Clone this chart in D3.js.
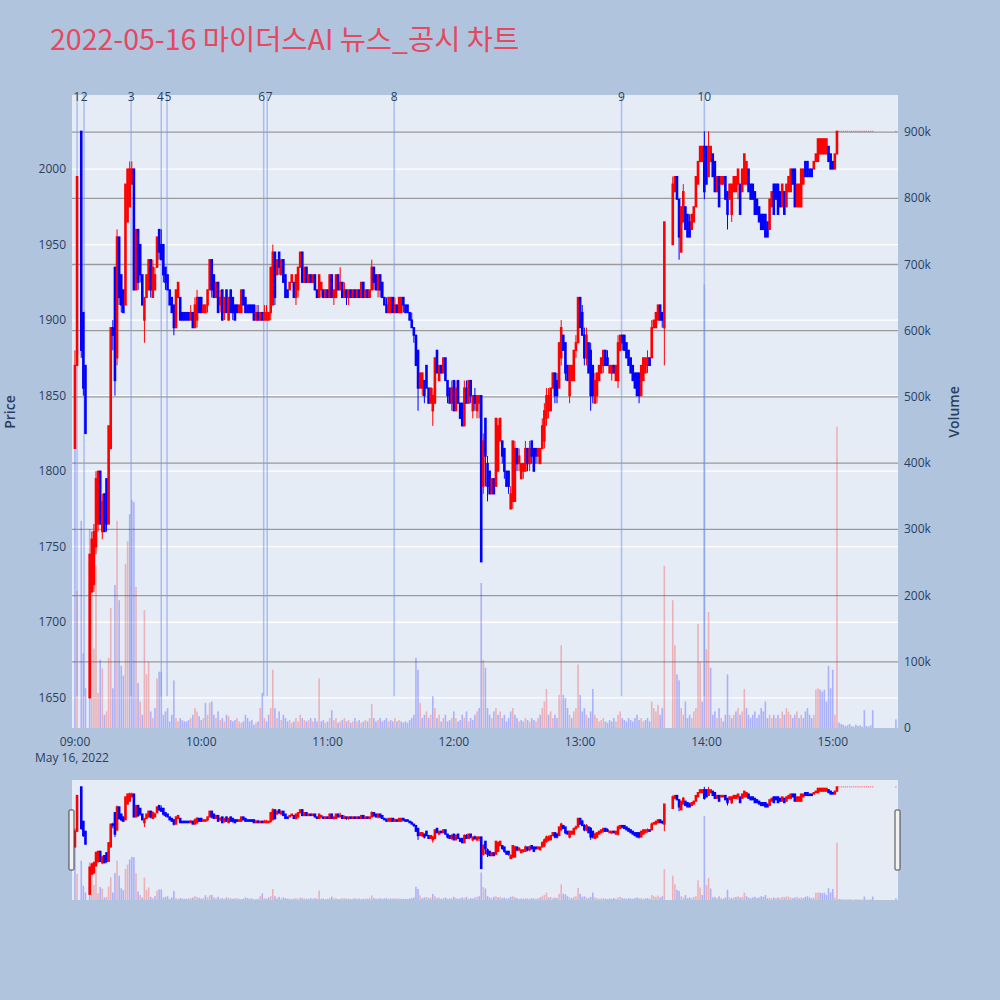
<!DOCTYPE html>
<html><head><meta charset="utf-8">
<script src="https://cdn.jsdelivr.net/npm/d3@7"></script>
<style>
body{margin:0;background:#b0c4de;}
svg{display:block;font-family:"Open Sans","Noto Sans CJK KR",sans-serif;}
</style>
</head><body>
<svg id="chart" width="1000" height="1000"></svg>
<script>
// ---------- DATA (one entry per minute from 09:00; null = no trade) ----------
const sessionDate = [2022, 4, 16, 9, 0];
const open = [
1815,1870,null,2025,1905,1870,null,1650,1720,1725,
1750,1765,1800,1760,1785,1795,1765,1815,1895,1935,
1875,1955,1930,1920,1910,1965,1975,1990,2000,1920,
1960,1950,1930,1900,1915,1920,1940,1915,1920,1935,
1960,1950,1950,1935,1930,1920,1915,1910,1895,1915,
1915,1905,1905,1905,1905,1900,1905,1895,1900,1915,
1915,1905,1905,1910,1920,1940,1930,1915,1925,1910,
1920,1905,1920,1900,1920,1915,1910,1910,1905,1905,
1920,1915,1910,1910,1910,1910,1900,1905,1900,1905,
1900,1900,1900,1905,1910,1945,1930,1945,1930,1940,
1930,1920,1920,1925,1925,1915,1920,1935,1945,1925,
1935,1925,1930,1925,1930,1920,1915,1920,1920,1915,
1920,1915,1930,1915,1915,1930,1920,1925,1915,1920,
1915,1920,1915,1920,1915,1920,1915,1925,1915,1920,
1915,1920,1935,1930,1920,1930,1925,1915,1910,1905,
1905,1915,1905,1910,1905,1905,1915,1910,1910,1905,
1900,1895,1890,1880,1855,1855,1860,1870,1855,1845,
1840,1845,1880,1860,1870,1865,1875,1860,1855,1845,
1860,1840,1860,1845,1845,1830,1855,1845,1860,1840,
1850,1840,1845,1850,1790,1835,1805,1800,1785,1795,
1790,1800,1820,1820,1815,1800,1800,1775,1780,1780,
1815,1805,1795,1800,1800,1815,1805,1820,1815,1815,
1810,1805,1815,1820,1835,1840,1840,1855,1865,1860,
1855,1875,1890,1885,1870,1850,1860,1860,1880,1885,
1915,1905,1890,1875,1885,1880,1870,1845,1850,1860,
1865,1870,1880,1875,1865,1865,1870,1860,1860,1880,
1890,1890,1885,1880,1875,1870,1865,1865,1865,1850,
1860,1865,1870,1875,1875,1895,1895,1900,1910,1905,
1895,null,null,null,1950,1985,1995,1980,1945,1965,
1975,1970,1965,1960,1965,1975,1990,2005,2005,2015,
2015,1995,2005,2010,2005,1985,1995,1990,1990,1995,
1985,1980,1970,1985,1985,1990,1990,1985,1990,1990,
2000,1990,1990,1985,1980,1975,1970,1970,1970,1965,
1960,1975,1990,1990,1990,1985,1975,1985,1975,1985,
1985,2000,2000,1975,1975,1975,1990,2005,2005,2000,
2000,2000,2005,2005,2010,2010,2010,2010,2015,2010,
2005,2000,2010,2025,2025,2025,2025,2025,2025,2025,
2025,2025,2025,2025,2025,2025,2025,2025,2025,2025,
null,null,null,null,null,null,null,null,null,null,
2025];
const high = [
1880,1995,null,2025,1905,1870,null,1745,1760,1765,
1800,1800,1800,1785,1785,1795,1830,1895,1900,1935,
1960,1955,1930,1920,1990,2000,2005,2005,2000,1960,
1960,1950,1930,1915,1930,1940,1940,1940,1935,1955,
1960,1960,1950,1935,1930,1920,1915,1910,1920,1925,
1915,1905,1905,1905,1905,1910,1905,1915,1920,1915,
1915,1910,1910,1920,1940,1940,1930,1925,1925,1920,
1920,1915,1920,1915,1920,1915,1910,1910,1910,1920,
1920,1915,1910,1910,1910,1910,1910,1910,1905,1905,
1910,1910,1905,1935,1950,1945,1940,1945,1940,1940,
1930,1920,1925,1930,1925,1930,1935,1945,1945,1935,
1935,1930,1930,1930,1930,1920,1930,1925,1920,1920,
1920,1930,1930,1920,1930,1930,1935,1925,1925,1920,
1920,1920,1920,1920,1920,1920,1925,1925,1920,1920,
1920,1940,1935,1930,1930,1930,1925,1915,1915,1915,
1915,1915,1915,1910,1915,1915,1915,1910,1910,1905,
1905,1895,1890,1880,1865,1865,1860,1870,1855,1855,
1855,1875,1880,1870,1870,1875,1875,1860,1855,1860,
1860,1860,1860,1845,1845,1860,1860,1860,1860,1850,
1855,1850,1850,1850,1825,1835,1810,1800,1795,1795,
1835,1835,1835,1820,1815,1800,1800,1790,1820,1820,
1815,1815,1805,1805,1820,1815,1820,1820,1815,1815,
1815,1815,1835,1845,1855,1855,1855,1865,1865,1865,
1885,1900,1890,1885,1870,1870,1870,1880,1890,1915,
1915,1910,1895,1895,1885,1885,1870,1865,1865,1870,
1875,1880,1880,1880,1870,1870,1870,1870,1890,1890,
1890,1890,1885,1880,1875,1870,1865,1865,1865,1870,
1875,1875,1880,1875,1900,1900,1905,1910,1910,1905,
1965,null,null,null,1995,1995,1995,1980,1975,1990,
1975,1970,1970,1970,1975,1995,2005,2015,2015,2025,
2015,2025,2015,2010,2005,1995,1995,1995,1995,1995,
1985,1990,1990,1995,1995,2000,1990,2000,2010,2005,
2000,1990,1990,1985,1980,1975,1970,1970,1970,1965,
1980,1985,1990,1990,1990,1985,1990,1985,1990,1995,
2000,2000,2000,1990,1990,2000,2000,2005,2005,2000,
2000,2005,2010,2020,2020,2020,2020,2020,2015,2010,
2005,2010,2025,2025,2025,2025,2025,2025,2025,2025,
2025,2025,2025,2025,2025,2025,2025,2025,2025,2025,
null,null,null,null,null,null,null,null,null,null,
2025];
const low = [
1815,1870,null,1875,1850,1825,null,1650,1720,1720,
1745,1760,1765,1755,1760,1760,1765,1815,1880,1850,
1870,1910,1905,1905,1910,1965,1975,1990,1920,1920,
1920,1925,1910,1885,1915,1920,1915,1915,1920,1935,
1940,1940,1925,1920,1920,1910,1905,1890,1895,1915,
1900,1900,1900,1900,1900,1900,1895,1895,1895,1905,
1905,1905,1905,1905,1920,1915,1915,1915,1905,1905,
1900,1900,1905,1900,1905,1900,1900,1905,1905,1905,
1910,1905,1905,1905,1905,1900,1900,1900,1900,1900,
1900,1900,1900,1900,1910,1910,1930,1930,1930,1925,
1915,1915,1920,1925,1915,1910,1915,1935,1925,1925,
1925,1925,1925,1925,1920,1915,1915,1915,1915,1915,
1915,1915,1915,1910,1915,1920,1920,1915,1915,1910,
1910,1915,1915,1915,1915,1915,1915,1915,1915,1915,
1915,1920,1920,1920,1915,1915,1915,1910,1905,1905,
1905,1905,1905,1905,1905,1905,1905,1905,1905,1900,
1895,1885,1870,1840,1855,1850,1845,1855,1845,1845,
1830,1845,1865,1860,1865,1865,1860,1845,1845,1840,
1840,1840,1845,1835,1830,1830,1845,1845,1845,1835,
1840,1835,1835,1740,1785,1790,1780,1785,1785,1785,
1790,1800,1820,1805,1795,1790,1785,1775,1775,1780,
1800,1800,1795,1795,1800,1800,1800,1805,1800,1805,
1805,1805,1815,1815,1830,1835,1840,1855,1845,1845,
1855,1870,1880,1860,1860,1845,1860,1860,1875,1885,
1895,1890,1870,1870,1865,1840,1845,1845,1845,1860,
1865,1865,1870,1870,1865,1860,1865,1860,1855,1880,
1880,1880,1875,1870,1865,1860,1855,1850,1845,1850,
1860,1865,1865,1870,1875,1895,1895,1900,1900,1895,
1870,null,null,null,1950,1985,1980,1940,1945,1965,
1960,1955,1955,1960,1965,1975,1990,2005,2005,1980,
1990,1995,2005,1995,1985,1985,1975,1990,1990,1980,
1960,1980,1965,1985,1985,1980,1970,1985,1990,1990,
1985,1980,1980,1970,1970,1965,1960,1960,1955,1955,
1960,1975,1970,1980,1970,1975,1975,1970,1975,1985,
1985,1990,1975,1975,1975,1975,1990,1995,1995,1995,
1995,2000,2005,2005,2010,2010,2010,2010,2005,2000,
2000,2000,2010,2025,2025,2025,2025,2025,2025,2025,
2025,2025,2025,2025,2025,2025,2025,2025,2025,2025,
null,null,null,null,null,null,null,null,null,null,
2025];
const close = [
1870,1995,null,1880,1855,1825,null,1745,1755,1760,
1795,1800,1765,1780,1760,1765,1830,1895,1890,1860,
1955,1915,1910,1905,1990,2000,2000,2000,1920,1960,
1925,1930,1910,1915,1930,1940,1920,1935,1930,1955,
1945,1940,1930,1925,1920,1910,1905,1895,1920,1925,
1900,1900,1900,1900,1900,1905,1895,1910,1915,1905,
1905,1910,1910,1920,1940,1920,1915,1925,1905,1915,
1900,1915,1905,1915,1905,1905,1900,1905,1910,1920,
1910,1905,1905,1905,1905,1900,1905,1900,1905,1900,
1905,1905,1905,1935,1945,1915,1940,1935,1940,1925,
1915,1915,1925,1930,1915,1930,1935,1945,1925,1935,
1925,1930,1925,1930,1920,1915,1930,1925,1915,1920,
1915,1930,1915,1920,1930,1920,1925,1915,1920,1915,
1920,1915,1920,1915,1920,1915,1925,1915,1920,1915,
1920,1935,1925,1920,1930,1920,1915,1910,1905,1915,
1915,1905,1910,1905,1915,1915,1910,1905,1905,1900,
1895,1890,1870,1855,1865,1865,1850,1855,1845,1855,
1850,1875,1865,1870,1865,1875,1860,1850,1845,1855,
1840,1855,1845,1835,1830,1855,1845,1860,1850,1850,
1845,1850,1850,1740,1820,1810,1790,1785,1795,1785,
1835,1830,1835,1810,1800,1790,1790,1785,1820,1815,
1805,1810,1805,1805,1815,1805,1815,1810,1800,1810,
1815,1815,1830,1840,1850,1850,1855,1865,1850,1850,
1885,1895,1880,1865,1860,1870,1870,1880,1885,1915,
1895,1890,1875,1890,1865,1850,1850,1860,1865,1870,
1875,1880,1870,1870,1870,1870,1865,1870,1885,1890,
1885,1880,1875,1870,1865,1860,1855,1850,1850,1870,
1875,1875,1875,1870,1895,1900,1905,1910,1900,1900,
1965,null,null,null,1990,1995,1980,1955,1975,1985,
1960,1955,1955,1970,1975,1995,2005,2015,2015,1985,
1990,2015,2015,1995,1985,1995,1975,1995,1995,1980,
1970,1990,1990,1995,1995,2000,1970,2000,2010,2005,
1985,1980,1980,1970,1970,1965,1960,1960,1955,1955,
1980,1985,1970,1980,1970,1975,1990,1970,1990,1995,
2000,1990,1975,1990,1990,2000,2000,1995,1995,1995,
1995,2005,2010,2020,2020,2020,2020,2020,2005,2000,
2000,2010,2025,2025,2025,2025,2025,2025,2025,2025,
2025,2025,2025,2025,2025,2025,2025,2025,2025,2025,
null,null,null,null,null,null,null,null,null,null,
2025];
const volumeK = [
420,207,null,313,113,60,null,300,263,120,
245,53,103,90,20,25,106,181,60,216,
313,193,94,79,248,282,323,344,341,213,
68,40,20,178,81,100,25,15,30,75,
85,85,20,25,30,10,20,72,15,10,
15,12,10,10,12,15,20,30,25,18,
12,15,38,20,38,40,20,15,25,12,
15,10,20,18,12,10,12,15,10,8,
10,20,15,10,12,5,8,10,30,53,
15,10,20,30,88,30,15,25,12,20,
15,10,12,8,10,15,10,20,15,12,
10,12,15,10,15,10,75,10,12,8,
10,15,27,12,15,8,10,12,15,10,
12,8,10,15,10,12,8,10,12,10,
15,36,15,10,12,15,10,12,15,10,
12,10,15,10,12,10,8,10,8,12,
15,20,106,88,38,15,20,25,15,20,
48,30,15,20,10,15,20,10,12,15,
25,15,10,12,20,15,25,10,15,12,
20,25,30,219,103,91,30,20,15,25,
30,20,25,15,20,10,15,25,30,20,
15,10,12,10,15,12,10,15,12,10,
15,20,30,40,59,20,25,15,20,15,
50,125,50,45,30,20,15,25,30,96,
50,25,30,20,15,25,59,20,15,10,
12,15,10,8,12,10,15,10,20,25,
15,12,10,15,12,10,15,20,12,15,
10,12,15,10,40,30,25,35,20,30,
245,null,null,null,193,125,81,72,30,20,
40,15,20,15,25,30,157,100,40,670,
119,175,91,20,25,15,30,15,10,20,
81,20,15,20,25,30,20,25,59,30,
20,15,20,25,15,20,30,25,40,15,
20,15,20,15,20,15,25,20,30,25,
20,15,20,25,15,20,15,25,30,20,
15,20,58,60,58,55,58,40,94,60,
88,20,455,8,6,5,3,4,6,3,
2,5,3,4,2,27,3,2,4,27,
null,null,null,null,null,null,null,null,null,null,
13];
const newsLabels = ["1","2","3","4","5","6","7","8","9","10"];
const newsTimes  = ["09:01:00","09:04:20","09:26:40","09:41:00","09:43:45","10:29:40","10:31:20","11:31:40","13:19:40","13:59:00"];
const priceTicks = [1650,1700,1750,1800,1850,1900,1950,2000];
const volumeTicks = [0,100000,200000,300000,400000,500000,600000,700000,800000,900000];
const timeTicks = ["09:00","10:00","11:00","12:00","13:00","14:00","15:00"];
const titleText = "2022-05-16 마이더스AI 뉴스_공시 차트";

// ---------- BUILD ----------
const base = new Date(...sessionDate);
const at = (hms) => { const p = hms.split(":").map(Number); return new Date(2022,4,16,p[0],p[1],p[2]||0); };
const rows = [];
open.forEach((o,i) => {
  if (o === null) return;
  rows.push({t:new Date(base.getTime()+i*60000), o, h:high[i], l:low[i], c:close[i], v:volumeK[i]*1000});
});
rows.forEach((r,i) => {
  r.volUp = i>0 && r.c > rows[i-1].c;
  r.up = r.c >= r.o;
  r.flat = r.h === r.l;
});

const svg = d3.select("#chart");
const M = {l:72, r:898, t:95, b:728};
const S = {t:780, b:900};

const x = d3.scaleTime().domain([new Date(2022,4,16,8,58,36), new Date(2022,4,16,15,31,0)]).range([M.l, M.r]);
const yP = d3.scaleLinear().domain([1630, 2049]).range([M.b, M.t]);
const yV = d3.scaleLinear().domain([0, 956000]).range([M.b, M.t]);
const ySP = d3.scaleLinear().domain([1630, 2049]).range([S.b, S.t]);
const ySV = d3.scaleLinear().domain([0, 956000]).range([S.b, S.t]);

const RED = "#ff0000", BLUE = "#0000ff", TXT = "#2a3f5f";

// title
svg.append("text").attr("x",50).attr("y",50).attr("font-size",28.5).attr("fill","#e5485f")
  .attr("font-family","'Noto Sans CJK KR','Open Sans',sans-serif").text(titleText);

// plot bg
svg.append("rect").attr("x",M.l).attr("y",M.t).attr("width",M.r-M.l).attr("height",M.b-M.t).attr("fill","#e5ecf6");

// price grid (white)
svg.append("g").selectAll("line").data(priceTicks).join("line")
  .attr("x1",M.l).attr("x2",M.r).attr("y1",d=>yP(d)).attr("y2",d=>yP(d))
  .attr("stroke","#ffffff").attr("stroke-width",1.3);
// volume grid (gray)
svg.append("g").selectAll("line").data(volumeTicks.filter(d=>d>0)).join("line")
  .attr("x1",M.l).attr("x2",M.r).attr("y1",d=>yV(d)).attr("y2",d=>yV(d))
  .attr("stroke","#9a9a9a").attr("stroke-width",1.3);

function drawVolume(g, ys, w){
  g.selectAll("rect").data(rows).join("rect")
    .attr("x",d=>x(d.t)-w/2).attr("width",w)
    .attr("y",d=>ys(d.v)).attr("height",d=>ys(0)-ys(d.v))
    .attr("fill",d=>d.volUp?RED:BLUE).attr("fill-opacity",0.25);
}
function drawCandles(g, ys, bw){
  const c = g.selectAll("g").data(rows).join("g");
  c.append("line").attr("x1",d=>x(d.t)).attr("x2",d=>x(d.t))
    .attr("y1",d=>ys(d.h)).attr("y2",d=>ys(d.l))
    .attr("stroke",d=>d.up?RED:BLUE).attr("stroke-width",1);
  c.append("rect").attr("x",d=>x(d.t)-(d.flat?0.6:bw/2)).attr("width",d=>d.flat?1.2:bw)
    .attr("y",d=>ys(Math.max(d.o,d.c))-(d.flat?0.5:0.6))
    .attr("height",d=>d.flat?1:Math.max(1.2, Math.abs(ys(d.o)-ys(d.c))+1.2))
    .attr("fill",d=>d.up?RED:BLUE).attr("fill-opacity",d=>d.flat?0.6:1);
}

// volume bars
drawVolume(svg.append("g"), yV, 1.6);

// news lines
const news = newsTimes.map((t,i)=>({t:at(t), label:newsLabels[i]}));
news.forEach((n,i)=>{ n.px = x(n.t); });
// labels of lines closer than a glyph width are nudged apart so they read side by side
news.forEach((n,i)=>{
  n.lx = n.px; n.anchor = "middle";
  const prev = news[i-1], next = news[i+1];
  if (next && next.px - n.px < 7) { n.anchor = "end"; n.lx = (n.px + next.px)/2 - 0.3; }
  if (prev && n.px - prev.px < 7) { n.anchor = "start"; n.lx = (n.px + prev.px)/2 + 0.3; }
});
svg.append("g").selectAll("line").data(news).join("line")
  .attr("x1",d=>d.px).attr("x2",d=>d.px)
  .attr("y1",M.t).attr("y2",M.b-(M.b-M.t)*0.05)
  .attr("stroke","#7f9ee8").attr("stroke-opacity",0.6).attr("stroke-width",1.5);
svg.append("g").selectAll("text").data(news).join("text")
  .attr("x",d=>d.lx).attr("y",101).attr("text-anchor",d=>d.anchor)
  .attr("font-size",12).attr("fill",TXT).text(d=>d.label);

// candles
drawCandles(svg.append("g"), yP, 2.6);

// axes labels
svg.append("g").selectAll("text").data(priceTicks).join("text")
  .attr("x",66).attr("y",d=>yP(d)+4).attr("text-anchor","end").attr("font-size",12).attr("fill",TXT).text(d=>d);
const vfmt = d => d===0 ? "0" : (d/1000)+"k";
svg.append("g").selectAll("text").data(volumeTicks).join("text")
  .attr("x",904).attr("y",d=>yV(d)+4).attr("text-anchor","start").attr("font-size",12).attr("fill",TXT).text(vfmt);
svg.append("g").selectAll("text").data(timeTicks).join("text")
  .attr("x",d=>x(at(d))).attr("y",746).attr("text-anchor","middle").attr("font-size",12).attr("fill",TXT).text(d=>d);
svg.append("text").attr("x",x(at(timeTicks[0]))-3).attr("y",762).attr("text-anchor","middle")
  .attr("font-size",12).attr("fill",TXT).text(d3.timeFormat("%b %-d, %Y")(base));
svg.append("text").attr("transform","translate(15,412) rotate(-90)").attr("text-anchor","middle")
  .attr("font-size",14).attr("font-weight",600).attr("fill",TXT).text("Price");
svg.append("text").attr("transform","translate(959,412) rotate(-90)").attr("text-anchor","middle")
  .attr("font-size",14).attr("font-weight",600).attr("fill",TXT).text("Volume");

// range slider
svg.append("rect").attr("x",M.l).attr("y",S.t).attr("width",M.r-M.l).attr("height",S.b-S.t).attr("fill","#e5ecf6");
const sg = svg.append("g");
drawVolume(sg.append("g"), ySV, 1.6);
drawCandles(sg.append("g"), ySP, 2.6);
[M.l-2, M.r-2].forEach(hx=>{
  svg.append("rect").attr("x",hx-1).attr("y",810).attr("width",5).attr("height",60)
    .attr("fill","#f2f2f2").attr("stroke","#444").attr("stroke-width",1).attr("rx",1);
});
</script>
</body></html>
